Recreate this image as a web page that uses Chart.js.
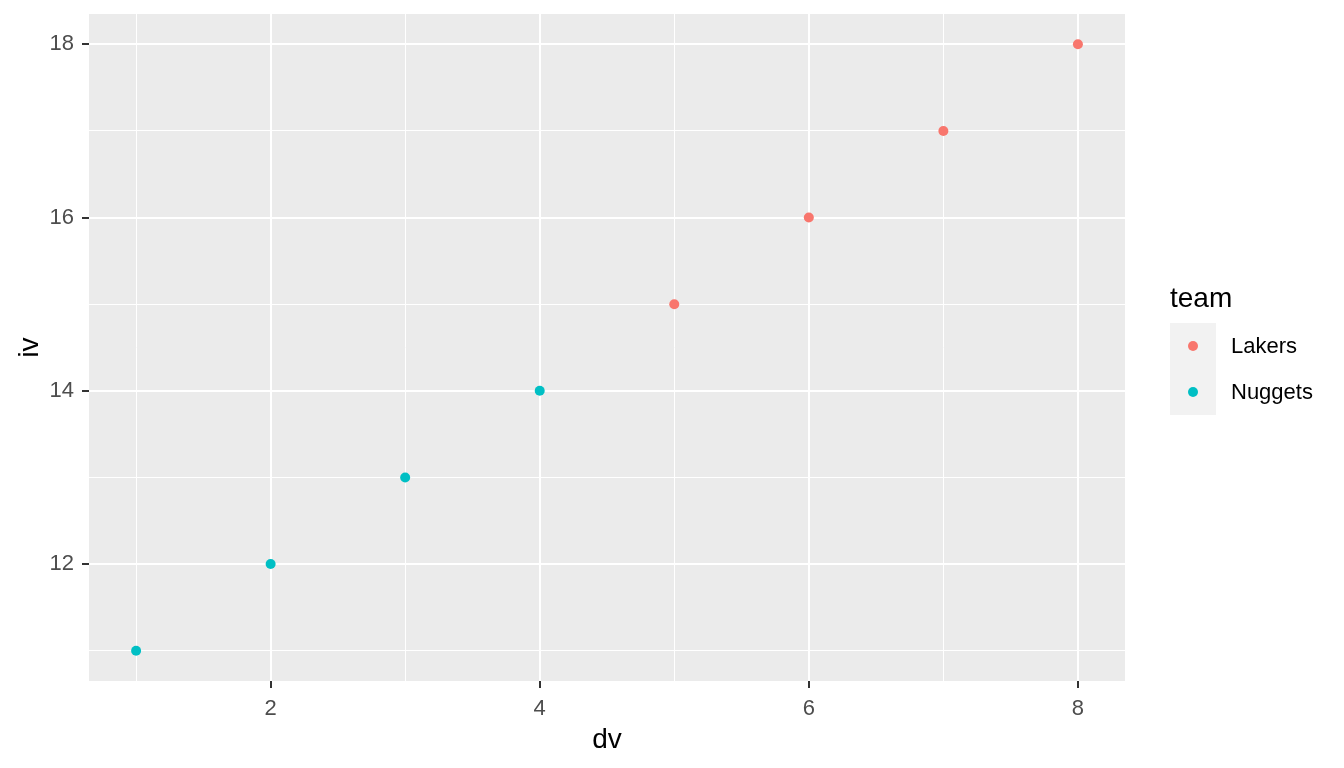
<!DOCTYPE html>
<html>
<head>
<meta charset="utf-8">
<script src="https://cdn.jsdelivr.net/npm/chart.js@4"></script>
<style>
  body { margin: 0; background: #fff; }
</style>
</head>
<body>
<canvas id="chart" width="1344" height="768"></canvas>
<script>
// данные
const dv = [1, 2, 3, 4, 5, 6, 7, 8];
const iv = [11, 12, 13, 14, 15, 16, 17, 18];
const team = ["Nuggets", "Nuggets", "Nuggets", "Nuggets", "Lakers", "Lakers", "Lakers", "Lakers"];
const teams = ["Lakers", "Nuggets"];
const teamColors = ["#F8766D", "#00BFC4"];
const xTicks = [1, 2, 3, 4, 5, 6, 7, 8];
const yTicks = [11, 12, 13, 14, 15, 16, 17, 18];

const FONT = "'Liberation Sans', Arial, sans-serif";

const datasets = teams.map((t, k) => ({
  label: t,
  data: dv.map((x, i) => ({ x: x, y: iv[i], t: team[i] })).filter(p => p.t === t),
  backgroundColor: teamColors[k],
  borderColor: teamColors[k],
  pointRadius: 5,
  pointBorderWidth: 0,
}));

// серый фон панели
const panelBg = {
  id: "panelBg",
  beforeDraw(chart) {
    const { ctx, chartArea: a } = chart;
    ctx.save();
    ctx.fillStyle = "#EBEBEB";
    ctx.fillRect(a.left, a.top, a.right - a.left, a.bottom - a.top);
    ctx.restore();
  },
};

// легенда в стиле ggplot
const ggLegend = {
  id: "ggLegend",
  afterDraw(chart) {
    const ctx = chart.ctx;
    ctx.save();
    ctx.fillStyle = "#000";
    ctx.font = "28px " + FONT;
    ctx.textAlign = "left";
    ctx.textBaseline = "alphabetic";
    ctx.fillText("team", 1170, 306.5);
    ctx.fillStyle = "#F2F2F2";
    ctx.fillRect(1170, 323, 46, 92);
    chart.data.datasets.forEach((ds, i) => {
      const cy = 346 + i * 46;
      ctx.fillStyle = ds.backgroundColor;
      ctx.beginPath();
      ctx.arc(1193, cy, 5, 0, Math.PI * 2);
      ctx.fill();
      ctx.fillStyle = "#000";
      ctx.font = "22px " + FONT;
      ctx.textBaseline = "middle";
      ctx.fillText(ds.label, 1231, cy + 1);
    });
    ctx.restore();
  },
};

const isMajor = v => v % 2 === 0;

function axisOpts(min, max, ticks, title) {
  return {
    type: "linear",
    min: min,
    max: max,
    afterBuildTicks: axis => { axis.ticks = ticks.map(v => ({ value: v })); },
    grid: {
      color: "#FFFFFF",
      lineWidth: c => (isMajor(c.tick.value) ? 2 : 1),
      drawTicks: true,
      tickLength: 7,
      tickWidth: 2,
      tickColor: c => (isMajor(c.tick.value) ? "#333333" : "rgba(0,0,0,0)"),
    },
    border: { display: false },
    ticks: {
      autoSkip: false,
      maxRotation: 0,
      color: "#4D4D4D",
      font: { family: FONT, size: 22 },
      padding: 8,
      callback: v => (isMajor(v) ? String(v) : ""),
    },
    title: {
      display: true,
      text: title,
      color: "#000",
      font: { family: FONT, size: 28 },
      padding: 0,
    },
  };
}

const xOpts = axisOpts(0.65, 8.35, xTicks, "dv");
xOpts.afterFit = s => {
  s.height = 768 - 681 - 11;
  s.paddingLeft = 0; s.paddingRight = 0;
};
const yOpts = axisOpts(10.65, 18.35, yTicks, "iv");
yOpts.afterFit = s => {
  s.width = 89 - 13;
  s.paddingTop = 0; s.paddingBottom = 0;
};

new Chart(document.getElementById("chart").getContext("2d"), {
  type: "scatter",
  data: { datasets: datasets },
  options: {
    responsive: false,
    animation: false,
    layout: { padding: { left: 13, right: 219, top: 14, bottom: 11 } },
    plugins: {
      legend: { display: false },
      tooltip: { enabled: false },
    },
    scales: { x: xOpts, y: yOpts },
  },
  plugins: [panelBg, ggLegend],
});
</script>
</body>
</html>
